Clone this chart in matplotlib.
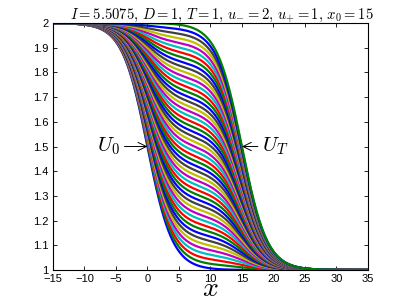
import numpy as np
import matplotlib
matplotlib.use("Agg")
import matplotlib.pyplot as plt

plt.rcParams['mathtext.fontset'] = 'cm'

## parameters from the title
I_val = 5.5075
D = 1.0
T = 1.0
u_minus = 2.0
u_plus = 1.0
x0 = 15.0          # centre of U_T
c0 = 0.0           # centre of U_0

x = np.linspace(-15, 35, 801)
t = np.arange(0, 1.0001, 0.02)     # 51 snapshots, t = 0:0.02:1

# matlab's old default colour order
colors = [(0, 0, 1), (0, 0.5, 0), (1, 0, 0), (0, 0.75, 0.75),
          (0.75, 0, 0.75), (0.75, 0.75, 0), (0.25, 0.25, 0.25)]

xticks = np.arange(-15, 36, 5)
yticks = np.round(np.arange(1, 2.01, 0.1), 1)
ytick_labels = ['1', '1.1', '1.2', '1.3', '1.4', '1.5', '1.6', '1.7', '1.8', '1.9', '2']


def front(x, c):
    # viscous shock profile
    return u_plus + (u_minus - u_plus) / (1 + np.exp((u_minus - u_plus) * (x - c) / (2 * D)))


U0 = front(x, c0)
UT = front(x, x0)

fig = plt.figure(figsize=(4.07, 3.03), dpi=100)
ax = fig.add_axes([0.130, 0.109, 0.774, 0.815])

for i, s in enumerate(t):
    u = (1 - s) * U0 + s * UT
    ax.plot(x, u, color=colors[i % len(colors)], linewidth=1.6)

ax.set_xlim(-15, 35)
ax.set_ylim(1, 2)
ax.set_xticks(xticks)
ax.set_yticks(yticks)
ax.set_xticklabels([str(v).replace('-', '\u2212') for v in xticks], fontsize=8, family='Liberation Sans')
ax.set_yticklabels(ytick_labels, fontsize=8, family='Liberation Sans')
ax.tick_params(direction='in', top=True, right=True, length=3, width=0.6)
ax.tick_params(axis='x', pad=3)
ax.tick_params(axis='y', pad=3)
for sp in ax.spines.values():
    sp.set_linewidth(0.8)

ax.set_xlabel('$x$', fontsize=20, labelpad=-7)
ax.set_title(r'$I = %.4f,\, D = %d,\, T = %d,\, u_{-} = %d,\, u_{+} = %d,\, x_0 = %d$'
             % (I_val, D, T, u_minus, u_plus, x0), fontsize=10.5, pad=3, x=0.537)

ax.annotate('$U_0$', xy=(c0, 1.5), xytext=(-4.3, 1.5), fontsize=15, va='center', ha='right',
            arrowprops=dict(arrowstyle='->', lw=0.7, color='black', shrinkA=1, shrinkB=0))
ax.annotate('$U_T$', xy=(x0, 1.5), xytext=(18.2, 1.5), fontsize=15, va='center', ha='left',
            arrowprops=dict(arrowstyle='->', lw=0.7, color='black', shrinkA=1, shrinkB=0))

fig.savefig('out.png', dpi=100)
